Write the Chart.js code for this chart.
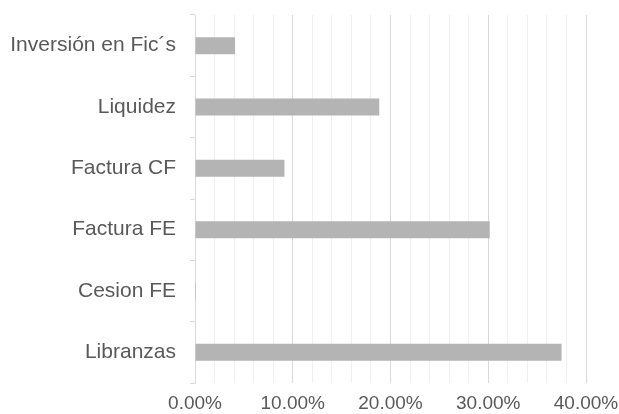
<!DOCTYPE html>
<html>
<head>
<meta charset="utf-8">
<script src="https://cdn.jsdelivr.net/npm/chart.js@4/dist/chart.umd.min.js"></script>
<style>
  html, body { margin: 0; padding: 0; background: #fff; }
  #wrap { width: 619px; height: 414px; position: relative; }
</style>
</head>
<body>
<div id="wrap"><canvas id="barChart"></canvas></div>
<script>
const categories = ['Inversión en Fic´s', 'Liquidez', 'Factura CF', 'Factura FE', 'Cesion FE', 'Libranzas'];
const shares = [0.041, 0.1885, 0.0915, 0.3015, 0.001, 0.375];
const tickLabels = ['0.00%', '10.00%', '20.00%', '30.00%', '40.00%'];

const barColor = '#b4b4b4';
const textColor = '#595959';

// minor steps every 2%, label only every 10%
const tickText = (value) => {
    const i = Math.round(value * 100);
    return i % 10 === 0 ? tickLabels[i / 10] : '';
};

new Chart(document.getElementById('barChart'), {
    type: 'bar',
    data: {
        labels: categories,
        datasets: [{
            data: shares,
            backgroundColor: barColor,
            borderWidth: 0,
            barPercentage: 0.92,
            categoryPercentage: 0.3
        }]
    },
    options: {
        indexAxis: 'y',
        responsive: true,
        maintainAspectRatio: false,
        animation: false,
        layout: {
            padding: { top: 15, left: 0, right: 33, bottom: 0 }
        },
        plugins: {
            legend: { display: false },
            tooltip: { enabled: false }
        },
        scales: {
            x: {
                min: 0,
                max: 0.4,
                border: { display: false },
                grid: {
                    drawTicks: false,
                    color: (ctx) => {
                        const i = Math.round(ctx.tick.value * 100);
                        return i % 10 === 0 ? '#d9d9d9' : '#f0f0f0';
                    },
                    lineWidth: 1
                },
                ticks: {
                    stepSize: 0.02,
                    autoSkip: false,
                    maxRotation: 0,
                    padding: 9,
                    color: textColor,
                    font: { family: "'Liberation Sans', Arial, sans-serif", size: 19 },
                    callback: tickText
                },
                afterFit: (scale) => {
                    scale.height = 31;
                    scale.paddingLeft = 0;
                    scale.paddingRight = 0;
                }
            },
            y: {
                border: { display: true, color: '#d9d9d9', width: 1 },
                grid: {
                    drawOnChartArea: false,
                    drawTicks: true,
                    tickLength: 5,
                    offset: true,
                    color: '#d9d9d9'
                },
                ticks: {
                    padding: 14,
                    color: textColor,
                    font: { family: "'Liberation Sans', Arial, sans-serif", size: 21 }
                },
                afterFit: (scale) => {
                    scale.width = 195;
                    scale.paddingTop = 0;
                    scale.paddingBottom = 0;
                }
            }
        }
    }
});
</script>
</body>
</html>
